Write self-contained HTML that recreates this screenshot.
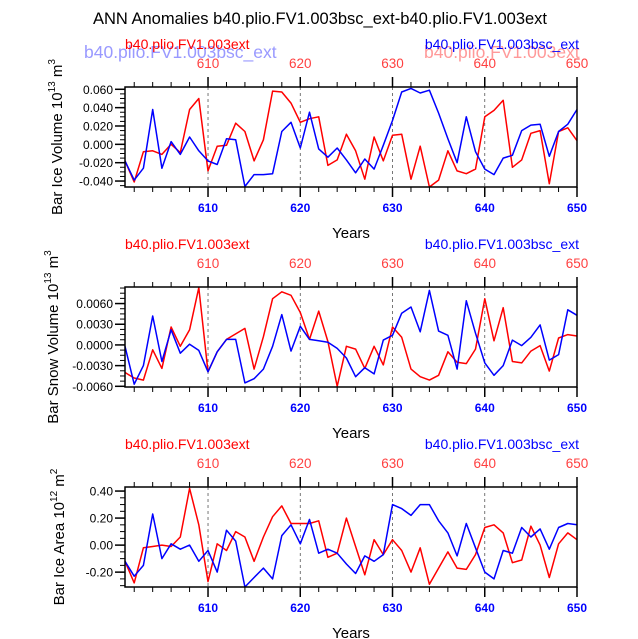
<!DOCTYPE html>
<html><head><meta charset="utf-8"><style>
body{margin:0;background:#fff;}
svg{display:block;font-family:"Liberation Sans",sans-serif;}
</style></head><body>
<svg id="chart" width="638" height="639">
<text x="320" y="24" font-size="16.5" text-anchor="middle">ANN Anomalies b40.plio.FV1.003bsc_ext-b40.plio.FV1.003ext</text>
<text x="84" y="58" font-size="17.5" fill="#8080ff" opacity="0.8">b40.plio.FV1.003bsc_ext</text>
<text x="424" y="58" font-size="17.5" fill="#ff8080" opacity="0.8">b40.plio.FV1.003ext</text>
</svg>
<script>
const years = [];
for (let y = 601; y <= 650; y++) years.push(y);
const xTicks = [610, 620, 630, 640, 650];

const iceVolRed = [-0.018,-0.041,-0.008,-0.007,-0.011,0.000,-0.009,0.038,0.050,-0.029,-0.002,-0.001,0.023,0.014,-0.018,0.005,0.058,0.057,0.045,0.024,0.028,0.030,-0.023,-0.017,0.011,-0.007,-0.038,0.008,-0.018,0.010,0.011,-0.038,-0.002,-0.047,-0.039,-0.007,-0.029,-0.032,-0.027,0.030,0.037,0.048,-0.025,-0.017,0.012,0.015,-0.043,0.014,0.018,0.004];
const iceVolBlue = [-0.018,-0.039,-0.026,0.038,-0.026,0.003,-0.011,0.008,-0.007,-0.018,-0.022,0.006,0.005,-0.046,-0.033,-0.033,-0.032,0.014,0.024,-0.004,0.035,-0.005,-0.014,-0.004,-0.017,-0.031,-0.016,-0.027,-0.001,0.026,0.057,0.061,0.056,0.059,0.034,0.006,-0.020,0.030,-0.008,-0.027,-0.033,-0.015,-0.012,0.015,0.021,0.022,-0.013,0.014,0.022,0.038];
const iceVolTicks = [0.060,0.040,0.020,0.000,-0.020,-0.040];
const iceVolTickLabels = ["0.060","0.040","0.020","0.000","-0.020","-0.040"];

const snowRed = [-4.0,-4.8,-5.1,-0.7,-3.4,2.6,-0.2,2.2,8.3,-3.9,-1.0,0.8,1.6,2.4,-3.5,1.2,6.7,7.7,7.2,4.7,0.8,4.9,0.5,-6.0,-0.2,-0.6,-3.4,-0.2,-2.9,2.6,1.1,-3.5,-4.6,-5.1,-4.4,-1.0,-2.5,-2.7,-0.6,6.7,0.6,5.4,-2.4,-2.6,-0.9,-0.1,-3.8,1.0,1.5,1.3];
const snowBlue = [-0.2,-5.7,-3.0,4.2,-2.4,2.2,-1.2,0.1,-0.8,-3.9,-1.0,0.8,0.8,-5.5,-4.9,-3.5,-0.2,4.4,-0.9,2.7,0.8,0.6,0.4,-0.5,-1.9,-4.6,-3.3,-4.2,0.7,1.4,4.6,5.5,1.9,7.9,2.0,1.4,-3.5,6.4,1.7,-2.6,-4.4,-3.0,0.7,-0.1,1.1,2.9,-2.2,-1.4,5.1,4.3];
const snowTicks = [6,3,0,-3,-6];
const snowTickLabels = ["0.0060","0.0030","0.0000","-0.0030","-0.0060"];

const areaRed = [-0.12,-0.28,-0.02,-0.01,0.00,-0.01,0.06,0.42,0.15,-0.27,0.01,-0.04,0.10,0.06,-0.12,0.06,0.21,0.29,0.16,0.16,0.16,0.18,-0.09,-0.06,0.20,-0.01,-0.22,0.04,-0.07,0.04,-0.04,-0.20,-0.02,-0.29,-0.17,-0.05,-0.17,-0.18,-0.07,0.13,0.15,0.09,-0.13,-0.11,0.14,0.00,-0.24,0.01,0.09,0.04];
const areaBlue = [-0.12,-0.23,-0.15,0.23,-0.10,0.01,-0.03,0.00,-0.12,-0.04,-0.20,0.11,0.03,-0.31,-0.24,-0.17,-0.25,0.07,0.15,0.01,0.19,-0.06,-0.03,-0.06,-0.14,-0.21,-0.08,-0.12,-0.07,0.30,0.27,0.22,0.30,0.30,0.18,0.09,-0.08,0.16,-0.02,-0.20,-0.25,-0.04,-0.06,0.13,0.06,0.12,-0.03,0.13,0.16,0.15];
const areaTicks = [0.4,0.2,0,-0.2];
const areaTickLabels = ["0.40","0.20","0.00","-0.20"];

const NS = "http://www.w3.org/2000/svg";
const svg = document.getElementById('chart');
function mk(tag, attrs, parent) {
  const e = document.createElementNS(NS, tag);
  for (const k in attrs) e.setAttribute(k, attrs[k]);
  (parent || svg).appendChild(e);
  return e;
}
const X0 = 125, X1 = 577;
function xScale(yr) { return X0 + (yr - 601) / 49 * (X1 - X0); }

const panels = [
  {name:'ice-volume', top:87, bottom:187, vTop:0.0625, vBot:-0.0465, red:iceVolRed, blue:iceVolBlue, ticks:iceVolTicks, labels:iceVolTickLabels, minor:0.005, title:'Bar Ice Volume 10', exp:'13', unit:' m', uexp:'3', tx:62},
  {name:'snow-volume', top:287, bottom:387, vTop:8.4, vBot:-6.1, red:snowRed, blue:snowBlue, ticks:snowTicks, labels:snowTickLabels, minor:0.75, title:'Bar Snow Volume 10', exp:'13', unit:' m', uexp:'3', tx:58},
  {name:'ice-area', top:487, bottom:587, vTop:0.43, vBot:-0.31, red:areaRed, blue:areaBlue, ticks:areaTicks, labels:areaTickLabels, minor:0.05, title:'Bar Ice Area 10', exp:'12', unit:' m', uexp:'2', tx:64}
];

panels.forEach((p, pi) => {
  const g = mk('g', {});
  
  
  const yScale = v => p.top + (p.vTop - v) / (p.vTop - p.vBot) * (p.bottom - p.top);
  xTicks.forEach(t => {
    if (t === 650) return;
    const l = mk('line', {x1:xScale(t), x2:xScale(t), y1:p.top, y2:p.bottom, stroke:'#555', 'stroke-width':0.8, 'stroke-dasharray':'3,3'}, g);
    
    
  });
  [['red', p.red, '#ff0000'], ['blue', p.blue, '#0000ff']].forEach(([nm, arr, col]) => {
    const pts = arr.map((v, i) => xScale(years[i]).toFixed(1) + ',' + Math.max(p.top, Math.min(p.bottom, yScale(v))).toFixed(1)).join(' ');
    const pl = mk('polyline', {points:pts, fill:'none', stroke:col, 'stroke-width':1.5, 'stroke-linejoin':'round'}, g);
    
    
  });
  const fr = mk('rect', {x:X0, y:p.top, width:X1 - X0, height:p.bottom - p.top, fill:'none', stroke:'#000', 'stroke-width':1.5}, g);
  
  
  for (let yr = 602; yr <= 650; yr += 2) {
    const major = yr % 10 === 0;
    const len = major ? 10 : 5;
    const x = xScale(yr);
    mk('line', {x1:x, x2:x, y1:p.bottom, y2:p.bottom + len, stroke:'#000', 'stroke-width':major ? 1.5 : 1}, g);
    mk('line', {x1:x, x2:x, y1:p.top, y2:p.top - len, stroke:'#000', 'stroke-width':major ? 1.5 : 1}, g);
  }
  xTicks.forEach(t => {
    const b = mk('text', {x:xScale(t), y:p.bottom + 25, 'font-size':12, 'font-weight':'bold', fill:'#0000ff', 'text-anchor':'middle'}, g);
    b.textContent = t;
    
    
    const tt = mk('text', {x:xScale(t), y:p.top - 19, 'font-size':13.5, fill:'#ff4040', 'text-anchor':'middle'}, g);
    tt.textContent = t;
    
    
  });
  const xt = mk('text', {x:351, y:p.bottom + 51, 'font-size':15, 'text-anchor':'middle'}, g);
  xt.textContent = 'Years';
  
  
  for (let v = Math.ceil(p.vBot / p.minor) * p.minor; v <= p.vTop + 1e-9; v += p.minor) {
    const y = yScale(v);
    mk('line', {x1:X0, x2:X0 - 5, y1:y, y2:y, stroke:'#000', 'stroke-width':1}, g);
  }
  p.ticks.forEach((v, i) => {
    const y = yScale(v);
    mk('line', {x1:X0, x2:X0 - 10, y1:y, y2:y, stroke:'#000', 'stroke-width':1.5}, g);
    const lb = mk('text', {x:X0 - 12, y:y + 4.5, 'font-size':12, 'text-anchor':'end'}, g);
    lb.textContent = p.labels[i];
    
    
  });
  const cy = (p.top + p.bottom) / 2;
  const yt = mk('text', {x:0, y:0, 'font-size':15, 'text-anchor':'middle', transform:'translate(' + p.tx + ',' + cy + ') rotate(-90)'}, g);
  
  
  yt.appendChild(document.createTextNode(p.title));
  const s1 = mk('tspan', {dy:-7, 'font-size':10}, yt); s1.textContent = p.exp;
  const s2 = mk('tspan', {dy:7}, yt); s2.textContent = p.unit;
  const s3 = mk('tspan', {dy:-7, 'font-size':10}, yt); s3.textContent = p.uexp;
  const rl = mk('text', {x:125, y:p.top - 38, 'font-size':14, fill:'#ff0000'}, g);
  rl.textContent = 'b40.plio.FV1.003ext';
  
  
  const bl = mk('text', {x:579, y:p.top - 38, 'font-size':14, fill:'#0000ff', 'text-anchor':'end'}, g);
  bl.textContent = 'b40.plio.FV1.003bsc_ext';
  
  
});
</script>
</body></html>
